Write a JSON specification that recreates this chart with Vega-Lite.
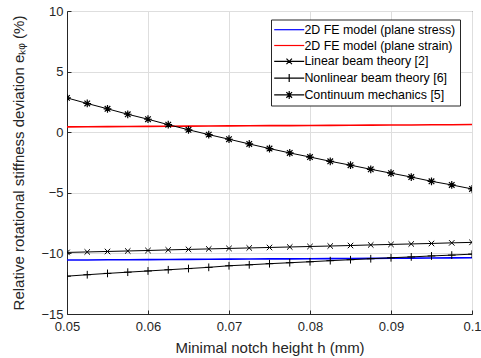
{
  "$schema": "https://vega.github.io/schema/vega-lite/v6.json",
  "width": 405,
  "height": 303,
  "autosize": {"type": "none"},
  "padding": {"left": 67, "top": 11, "right": 9, "bottom": 44},
  "background": "white",
  "config": {
    "view": {"stroke": "#262626", "strokeWidth": 1},
    "font": "Liberation Sans",
    "axis": {
      "labelFont": "Liberation Sans",
      "labelFontSize": 13,
      "labelColor": "#262626",
      "labelFlush": false,
      "labelOverlap": false,
      "titleFont": "Liberation Sans",
      "titleFontSize": 15,
      "titleFontWeight": "normal",
      "titleColor": "#262626",
      "domainColor": "#262626",
      "gridColor": "#dedede",
      "gridWidth": 1,
      "ticks": true,
      "tickSize": -4,
      "tickColor": "#262626"
    },
    "legend": {
      "labelFont": "Liberation Sans",
      "labelFontSize": 12.4,
      "labelColor": "#000000"
    }
  },
  "data": {
    "values": [
      {"h": 0.05, "ps": -10.55, "pe": 0.44, "lb": -9.92, "nb": -11.88, "cm": 2.83},
      {"h": 0.0525, "ps": -10.54, "pe": 0.45, "lb": -9.88, "nb": -11.76, "cm": 2.37},
      {"h": 0.055, "ps": -10.53, "pe": 0.46, "lb": -9.84, "nb": -11.65, "cm": 1.93},
      {"h": 0.0575, "ps": -10.52, "pe": 0.47, "lb": -9.80, "nb": -11.55, "cm": 1.48},
      {"h": 0.06, "ps": -10.51, "pe": 0.48, "lb": -9.76, "nb": -11.45, "cm": 1.07},
      {"h": 0.0625, "ps": -10.50, "pe": 0.49, "lb": -9.71, "nb": -11.35, "cm": 0.62},
      {"h": 0.065, "ps": -10.49, "pe": 0.50, "lb": -9.67, "nb": -11.25, "cm": 0.2},
      {"h": 0.0675, "ps": -10.48, "pe": 0.51, "lb": -9.63, "nb": -11.15, "cm": -0.2},
      {"h": 0.07, "ps": -10.47, "pe": 0.52, "lb": -9.59, "nb": -11.02, "cm": -0.58},
      {"h": 0.0725, "ps": -10.46, "pe": 0.53, "lb": -9.55, "nb": -10.94, "cm": -0.97},
      {"h": 0.075, "ps": -10.45, "pe": 0.54, "lb": -9.51, "nb": -10.85, "cm": -1.35},
      {"h": 0.0775, "ps": -10.45, "pe": 0.54, "lb": -9.47, "nb": -10.77, "cm": -1.71},
      {"h": 0.08, "ps": -10.44, "pe": 0.55, "lb": -9.43, "nb": -10.69, "cm": -2.05},
      {"h": 0.0825, "ps": -10.43, "pe": 0.56, "lb": -9.39, "nb": -10.60, "cm": -2.40},
      {"h": 0.085, "ps": -10.42, "pe": 0.57, "lb": -9.35, "nb": -10.52, "cm": -2.72},
      {"h": 0.0875, "ps": -10.41, "pe": 0.58, "lb": -9.30, "nb": -10.44, "cm": -3.06},
      {"h": 0.09, "ps": -10.40, "pe": 0.59, "lb": -9.26, "nb": -10.36, "cm": -3.38},
      {"h": 0.0925, "ps": -10.39, "pe": 0.60, "lb": -9.22, "nb": -10.29, "cm": -3.70},
      {"h": 0.095, "ps": -10.38, "pe": 0.61, "lb": -9.18, "nb": -10.21, "cm": -4.05},
      {"h": 0.0975, "ps": -10.37, "pe": 0.62, "lb": -9.13, "nb": -10.14, "cm": -4.35},
      {"h": 0.1, "ps": -10.36, "pe": 0.63, "lb": -9.09, "nb": -10.06, "cm": -4.68}
    ]
  },
  "transform": [
    {"fold": ["ps", "pe", "lb", "nb", "cm"], "as": ["series", "value"]}
  ],
  "encoding": {
    "x": {
      "field": "h", "type": "quantitative",
      "scale": {"domain": [0.05, 0.1], "nice": false, "zero": false},
      "axis": {"values": [0.05, 0.06, 0.07, 0.08, 0.09, 0.1], "format": ".2~f", "title": "Minimal notch height h (mm)", "labelPadding": 10, "titlePadding": 7}
    },
    "y": {
      "field": "value", "type": "quantitative",
      "scale": {"domain": [-15, 10], "nice": false, "zero": false},
      "axis": {"values": [-15, -10, -5, 0, 5, 10], "title": "Relative rotational stiffness deviation eₖᵩ  (%)", "labelPadding": 8, "titlePadding": 14}
    }
  },
  "layer": [
    {
      "transform": [{"filter": "datum.series == 'ps' || datum.series == 'pe'"}],
      "mark": {"type": "line", "clip": true, "strokeWidth": 1.6},
      "encoding": {
        "stroke": {"field": "series", "type": "nominal", "scale": {"domain": ["ps", "pe"], "range": ["#0000ff", "#ff0000"]}, "legend": null}
      }
    },
    {
      "transform": [{"filter": "datum.series == 'lb' || datum.series == 'nb' || datum.series == 'cm'"}],
      "mark": {"type": "line", "clip": true, "strokeWidth": 1, "color": "#000000"},
      "encoding": {
        "detail": {"field": "series", "type": "nominal"}
      }
    },
    {
      "transform": [{"filter": "datum.series == 'lb'"}],
      "mark": {"type": "point", "shape": "M-1,-1L1,1M-1,1L1,-1", "size": 30, "filled": false, "stroke": "#000000", "strokeWidth": 1, "opacity": 1, "clip": true}
    },
    {
      "transform": [{"filter": "datum.series == 'nb'"}],
      "mark": {"type": "point", "shape": "M-1,0L1,0M0,-1L0,1", "size": 60, "filled": false, "stroke": "#000000", "strokeWidth": 1, "opacity": 1, "clip": true}
    },
    {
      "transform": [{"filter": "datum.series == 'cm'"}],
      "mark": {"type": "point", "shape": "M-1,0L1,0M0,-1L0,1M-0.72,-0.72L0.72,0.72M-0.72,0.72L0.72,-0.72", "size": 60, "filled": false, "stroke": "#000000", "strokeWidth": 1.2, "opacity": 1, "clip": true}
    },
    {
      "mark": {"type": "point", "filled": false, "opacity": 0},
      "encoding": {
        "color": {"field": "series", "type": "nominal", "scale": {"domain": ["ps", "pe", "lb", "nb", "cm"], "range": ["#0000ff", "#ff0000", "#000000", "#000000", "#000000"]},
          "legend": {
            "title": null,
            "orient": "none",
            "legendX": 204,
            "legendY": 8.5,
            "fillColor": "white",
            "strokeColor": "#262626",
            "padding": 4,
            "rowPadding": 2.8,
            "labelOffset": 9,
            "symbolOffset": 8,
            "symbolSize": 100,
            "symbolOpacity": 1,
            "symbolStrokeWidth": 1.2,
            "labelExpr": "datum.label == 'ps' ? '2D FE model (plane stress)' : datum.label == 'pe' ? '2D FE model (plane strain)' : datum.label == 'lb' ? 'Linear beam theory [2]' : datum.label == 'nb' ? 'Nonlinear beam theory [6]' : 'Continuum mechanics [5]'"
          }
        },
        "shape": {"field": "series", "type": "nominal", "scale": {"domain": ["ps", "pe", "lb", "nb", "cm"], "range": ["M-3,0L3,0", "M-3,0L3,0", "M-3,0L3,0M-0.55,-0.55L0.55,0.55M-0.55,0.55L0.55,-0.55", "M-3,0L3,0M0,-0.8L0,0.8", "M-3,0L3,0M0,-0.8L0,0.8M-0.57,-0.57L0.57,0.57M-0.57,0.57L0.57,-0.57"]},
          "legend": {
            "title": null,
            "orient": "none",
            "legendX": 204,
            "legendY": 8.5,
            "fillColor": "white",
            "strokeColor": "#262626",
            "padding": 4,
            "rowPadding": 2.8,
            "labelOffset": 9,
            "symbolOffset": 8,
            "symbolSize": 100,
            "symbolOpacity": 1,
            "symbolStrokeWidth": 1.2,
            "labelExpr": "datum.label == 'ps' ? '2D FE model (plane stress)' : datum.label == 'pe' ? '2D FE model (plane strain)' : datum.label == 'lb' ? 'Linear beam theory [2]' : datum.label == 'nb' ? 'Nonlinear beam theory [6]' : 'Continuum mechanics [5]'"
          }
        }
      }
    }
  ]
}
